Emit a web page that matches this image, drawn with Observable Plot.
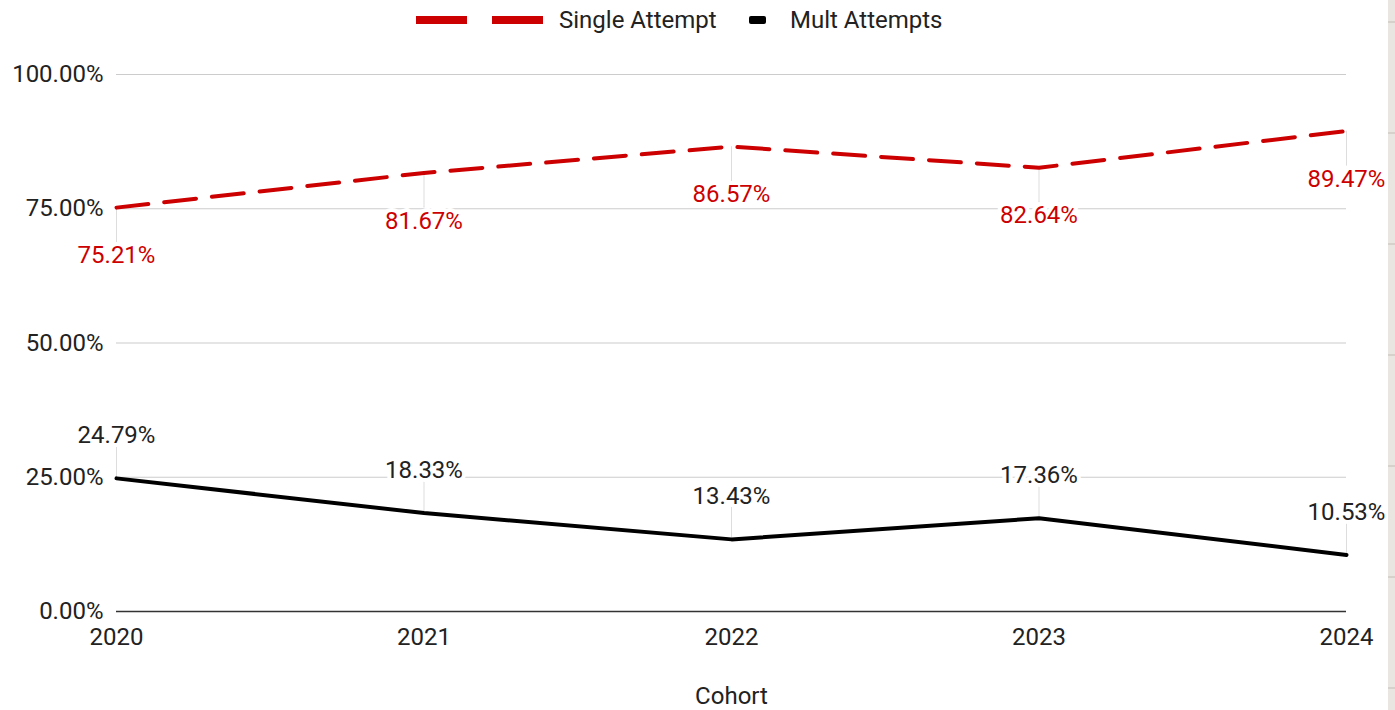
<!DOCTYPE html>
<html>
<head>
<meta charset="utf-8">
<script src="https://cdn.jsdelivr.net/npm/d3@7"></script>
<script src="https://cdn.jsdelivr.net/npm/@observablehq/plot@0.6"></script>
<style>
  html, body { margin: 0; padding: 0; background: #fff; }
  body { width: 1395px; height: 710px; position: relative; overflow: hidden; font-family: Roboto, "Noto Sans", sans-serif; }
  #legend { position: absolute; left: 0; top: 0; width: 1395px; height: 40px; font-size: 24px; color: #222; }
  #legend .item { position: absolute; top: 0; height: 40px; display: flex; align-items: center; white-space: nowrap; }
  #chart { position: absolute; left: 0; top: 40px; }
  #strip { position: absolute; left: 1388px; top: 0; width: 7px; height: 710px;
    background: repeating-linear-gradient(to bottom, #e9e5e0 0px, #e9e5e0 21px, #d6d1cb 21px, #d6d1cb 23px, #e9e5e0 23px, #e9e5e0 111px); }
</style>
</head>
<body>
<div id="legend"></div>
<div id="chart"></div>
<div id="strip"></div>
<script>
// ---- data ----
const cohorts = [2020, 2021, 2022, 2023, 2024];
const singleAttempt = [75.21, 81.67, 86.57, 82.64, 89.47];
const multAttempts = [24.79, 18.33, 13.43, 17.36, 10.53];
const seriesNames = ["Single Attempt", "Mult Attempts"];
const yTicks = [0, 25, 50, 75, 100];
const xLabel = "Cohort";

const RED = "#cc0000";
const BLACK = "#000000";

const single = cohorts.map((c, i) => ({cohort: c, value: singleAttempt[i]}));
const mult = cohorts.map((c, i) => ({cohort: c, value: multAttempts[i]}));
const pct = v => v.toFixed(2) + "%";

// ---- legend ----
const legend = document.getElementById("legend");
legend.innerHTML = `
  <div class="item" style="left:416px">
    <svg width="128" height="10" style="margin-right:15px"><rect x="0" y="1" width="51" height="8" fill="${RED}"/><rect x="76" y="1" width="51" height="8" fill="${RED}"/></svg>
    <span>${seriesNames[0]}</span>
  </div>
  <div class="item" style="left:749px">
    <svg width="18" height="10" style="margin-right:23px"><rect x="0" y="1" width="17" height="8" rx="2" fill="${BLACK}"/></svg>
    <span>${seriesNames[1]}</span>
  </div>`;

// ---- chart ----
const FS = 24;
const chart = Plot.plot({
  width: 1395,
  height: 670,
  marginTop: 34,
  marginBottom: 99,
  marginLeft: 116,
  marginRight: 49,
  style: {fontFamily: "Roboto, 'Noto Sans', sans-serif", fontSize: FS + "px", color: "#222", background: "transparent", overflow: "visible"},
  x: {type: "linear", domain: [cohorts[0], cohorts[cohorts.length - 1]], label: null},
  y: {domain: [0, 100], label: null},
  marks: [
    Plot.gridY(yTicks, {stroke: "#cccccc", strokeOpacity: 1, strokeWidth: 1.2}),
    Plot.axisY(yTicks, {tickSize: 0, tickPadding: 13, tickFormat: pct, fill: "#222", label: null}),
    Plot.axisX(cohorts, {tickSize: 0, tickPadding: 16, tickFormat: d => String(d), fill: "#222", label: null}),
    Plot.ruleY([0], {stroke: "#333", strokeWidth: 1.5}),
    // leader lines
    Plot.vector(single, {x: "cohort", y: "value", length: 34, rotate: 180, anchor: "start", r: 0, stroke: "#dddddd", strokeWidth: 1}),
    Plot.vector(mult, {x: "cohort", y: "value", length: 32, rotate: 0, anchor: "start", r: 0, stroke: "#dddddd", strokeWidth: 1}),
    // lines
    Plot.line(single, {x: "cohort", y: "value", stroke: RED, strokeWidth: 4, strokeDasharray: "32,16"}),
    Plot.line(mult, {x: "cohort", y: "value", stroke: BLACK, strokeWidth: 4}),
    // labels
    Plot.text(single, {x: "cohort", y: "value", text: d => pct(d.value), dy: 48, fill: RED, stroke: "white", strokeWidth: 8, fontSize: FS}),
    Plot.text(mult, {x: "cohort", y: "value", text: d => pct(d.value), dy: -43, fill: "#222", stroke: "white", strokeWidth: 8, fontSize: FS}),
    // axis title
    Plot.text([xLabel], {frameAnchor: "bottom", text: d => d, dy: 92, fill: "#222", fontSize: FS})
  ]
});
document.getElementById("chart").appendChild(chart);
</script>
</body>
</html>
